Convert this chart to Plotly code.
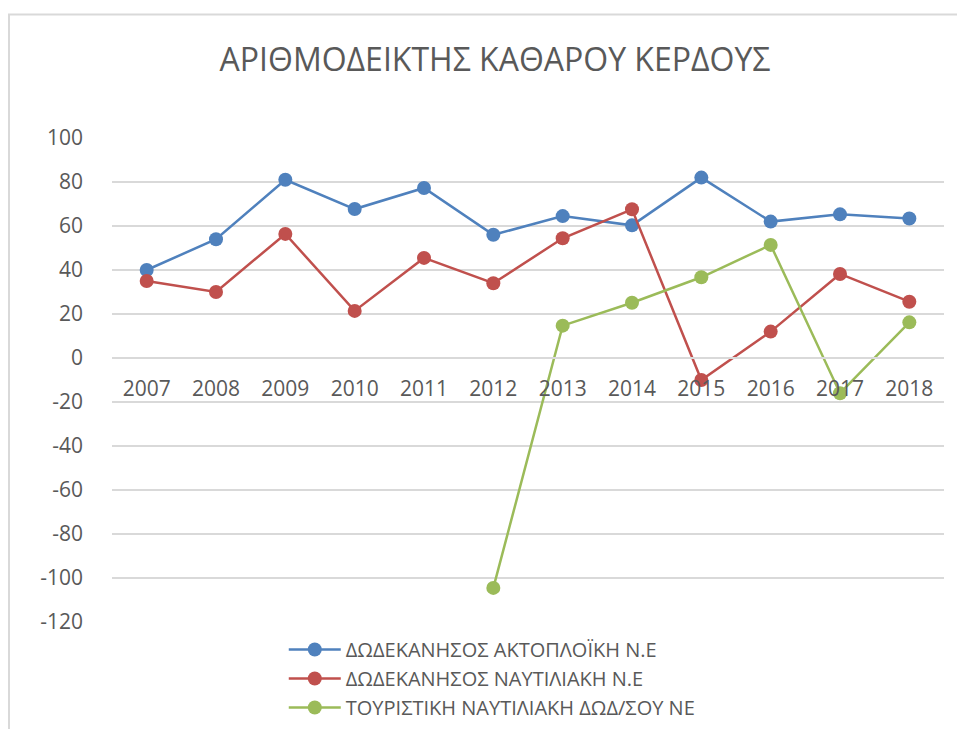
import plotly.graph_objects as go

years = ["2007", "2008", "2009", "2010", "2011", "2012", "2013", "2014", "2015", "2016", "2017", "2018"]
aktoploiki = [40, 54, 81, 67.7, 77.3, 56, 64.5, 60.3, 82, 62, 65.3, 63.4]
naftiliaki = [35, 30, 56.4, 21.4, 45.5, 34, 54.4, 67.6, -10, 12, 38.2, 25.6]
touristiki = [None, None, None, None, None, -104.5, 14.7, 25.1, 36.7, 51.4, -16, 16.2]

names = ["ΔΩΔΕΚΑΝΗΣΟΣ ΑΚΤΟΠΛΟΪΚΗ Ν.Ε", "ΔΩΔΕΚΑΝΗΣΟΣ ΝΑΥΤΙΛΙΑΚΗ Ν.Ε", "ΤΟΥΡΙΣΤΙΚΗ ΝΑΥΤΙΛΙΑΚΗ ΔΩΔ/ΣΟΥ ΝΕ"]
colors = ["#4F81BD", "#C0504D", "#9BBB59"]
yticks = [100, 80, 60, 40, 20, 0, -20, -40, -60, -80, -100, -120]
ytick_labels = ["100", "80", "60", "40", "20", "0", "-20", "-40", "-60", "-80", "-100", "-120"]

fig = go.Figure()
for vals, name, col in zip([aktoploiki, naftiliaki, touristiki], names, colors):
    fig.add_trace(go.Scatter(
        x=years, y=vals, name=name, mode="lines+markers",
        line=dict(color=col, width=2.5),
        marker=dict(color=col, size=14),
        connectgaps=False,
    ))

# page renders the figure offset by the body margin (8px)
OFF = 8
W, H = 965, 729
L, T = 112.4 - OFF, 138 - OFF
R = W - (943.6 - OFF)
B = H - (622 - OFF)
pw = W - L - R
ph = H - T - B

def px_x(sx):
    return (sx - OFF - L) / pw

def px_y(sy):
    return (H - B - (sy - OFF)) / ph

fig.update_layout(
    width=W, height=H,
    margin=dict(l=L, r=R, t=T, b=B, pad=0, autoexpand=False),
    paper_bgcolor="white", plot_bgcolor="white",
    font=dict(family="Open Sans", color="#595959"),
    title=dict(text="ΑΡΙΘΜΟΔΕΙΚΤΗΣ ΚΑΘΑΡΟΥ ΚΕΡΔΟΥΣ", x=(495 - OFF) / W, xanchor="center", xref="container",
               y=1 - (60 - OFF) / H, yanchor="middle",
               font=dict(size=32, color="#595959", family="Open Sans")),
    showlegend=True,
    legend=dict(
        orientation="v", x=px_x(284), xanchor="left", y=px_y(630), yanchor="top",
        font=dict(size=20, color="#595959"), tracegroupgap=0, itemwidth=52,
        bgcolor="rgba(0,0,0,0)",
    ),
    xaxis=dict(
        type="category", anchor="free", position=120 / 220,
        showgrid=False, showline=True, linecolor="#D9D9D9", linewidth=1.5,
        ticks="", tickfont=dict(size=21, color="#595959"),
        ticklabelstandoff=12, range=[-0.5, 11.5], zeroline=False, automargin=False,
    ),
    yaxis=dict(
        range=[-120, 100], tickvals=yticks, ticktext=ytick_labels,
        showgrid=True, gridcolor="#D9D9D9", gridwidth=1.5,
        zeroline=False, showline=False, ticks="", tickfont=dict(size=21, color="#595959"),
        ticklabelstandoff=28, automargin=False,
    ),
    shapes=[dict(type="rect", xref="paper", yref="paper",
                 x0=px_x(9.5), x1=1.2, y0=-0.5, y1=px_y(14.5),
                 line=dict(color="#D9D9D9", width=2), fillcolor="rgba(0,0,0,0)", layer="below")],
)

fig.write_html("out.html")
